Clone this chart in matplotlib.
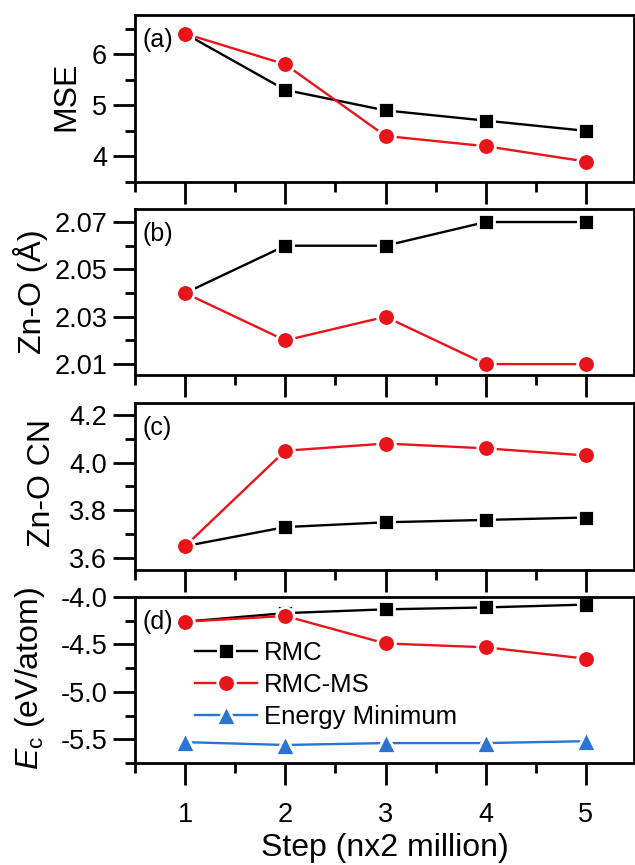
import matplotlib
matplotlib.use('Agg')
import matplotlib.pyplot as plt
from matplotlib.ticker import MultipleLocator, FixedLocator, FormatStrFormatter

plt.rcParams['font.family'] = ['Liberation Sans', 'DejaVu Sans']
plt.rcParams['mathtext.fontset'] = 'custom'
plt.rcParams['mathtext.rm'] = 'Liberation Sans'
plt.rcParams['mathtext.it'] = 'Liberation Sans:italic'
plt.rcParams['axes.unicode_minus'] = False

steps = [1, 2, 3, 4, 5]

mse_rmc = [6.4, 5.3, 4.9, 4.7, 4.5]
mse_rmcms = [6.4, 5.8, 4.4, 4.2, 3.9]

zno_rmc = [2.04, 2.06, 2.06, 2.07, 2.07]
zno_rmcms = [2.04, 2.02, 2.03, 2.01, 2.01]

cn_rmc = [3.65, 3.73, 3.75, 3.76, 3.77]
cn_rmcms = [3.65, 4.05, 4.08, 4.06, 4.03]

ec_rmc = [-4.26, -4.17, -4.13, -4.11, -4.08]
ec_rmcms = [-4.26, -4.20, -4.49, -4.53, -4.65]
ec_emin = [-5.53, -5.56, -5.54, -5.54, -5.52]

labels = ['RMC', 'RMC-MS', 'Energy Minimum']

# y ticks per panel (major, minor)
mse_ticks = ([4, 5, 6], [3.5, 4.5, 5.5, 6.5])
zno_ticks = ([2.01, 2.03, 2.05, 2.07], [2.02, 2.04, 2.06])
cn_ticks = ([3.6, 3.8, 4.0, 4.2], [3.7, 3.9, 4.1])
ec_ticks = ([-5.5, -5.0, -4.5, -4.0], [-5.75, -5.25, -4.75, -4.25])

BLACK = '#000000'
RED = '#e8141a'
BLUE = '#2a74d2'

W, H = 635, 865
fig = plt.figure(figsize=(W / 100, H / 100), dpi=100)


def add_panel(top, bottom):
    return fig.add_axes([135 / W, 1 - bottom / H, 499 / W, (bottom - top) / H])


panels = [
    add_panel(15, 182),
    add_panel(209, 375),
    add_panel(403, 570),
    add_panel(597, 763),
]

line_kw = dict(linewidth=1.7, markeredgecolor='white', markeredgewidth=2.0)


def style(ax, ylim, ticks, fmt, letter):
    ax.set_xlim(0.5, 5.48)
    ax.set_ylim(*ylim)
    ax.xaxis.set_major_locator(MultipleLocator(1))
    ax.xaxis.set_minor_locator(MultipleLocator(0.5))
    ax.yaxis.set_major_locator(FixedLocator(ticks[0]))
    ax.yaxis.set_minor_locator(FixedLocator(ticks[1]))
    ax.yaxis.set_major_formatter(FormatStrFormatter(fmt))
    for s in ax.spines.values():
        s.set_linewidth(2.0)
    ax.tick_params(which='major', direction='out', length=16, width=2.0,
                   labelsize=19.5, pad=4)
    ax.tick_params(which='minor', direction='out', length=7.5, width=2.0)
    ax.tick_params(axis='x', which='major', pad=12)
    ax.text(7 / 499, 1 - 25 / (ax.bbox.height), letter, transform=ax.transAxes,
            ha='left', va='center', fontsize=18)


ax = panels[0]
ax.plot(steps, mse_rmc, color=BLACK, marker='s', markersize=12, **line_kw)
ax.plot(steps, mse_rmcms, color=RED, marker='o', markersize=12.7, **line_kw)
style(ax, (3.5, 6.765), mse_ticks, '%d', '(a)')

ax = panels[1]
ax.plot(steps, zno_rmc, color=BLACK, marker='s', markersize=12, **line_kw)
ax.plot(steps, zno_rmcms, color=RED, marker='o', markersize=12.7, **line_kw)
style(ax, (2.0054, 2.0755), zno_ticks, '%.2f', '(b)')

ax = panels[2]
ax.plot(steps, cn_rmc, color=BLACK, marker='s', markersize=12, **line_kw)
ax.plot(steps, cn_rmcms, color=RED, marker='o', markersize=12.7, **line_kw)
style(ax, (3.55, 4.25), cn_ticks, '%.1f', '(c)')

ax = panels[3]
ax.plot(steps, ec_rmc, color=BLACK, marker='s', markersize=12, label=labels[0], **line_kw)
ax.plot(steps, ec_rmcms, color=RED, marker='o', markersize=12.7, label=labels[1], **line_kw)
ax.plot(steps, ec_emin, color=BLUE, marker='^', markersize=14, label=labels[2], **line_kw)
style(ax, (-5.75, -4.0), ec_ticks, '%.1f', '(d)')
ax.legend(loc='upper left', bbox_to_anchor=(60 / 499, 1 - 44 / 166), frameon=False,
          fontsize=18.5, handlelength=2.4, handletextpad=0.3, labelspacing=0.32,
          borderpad=0, borderaxespad=0)
ax.set_xlabel('Step (nx2 million)', fontsize=23, labelpad=4)

for ax in panels[:3]:
    ax.tick_params(axis='x', labelbottom=False)

# y labels
fig.text(66 / W, 1 - 96 / H, 'MSE', rotation=90, ha='center', va='center', fontsize=23)
fig.text(30 / W, 1 - 292 / H, 'Zn-O (Å)', rotation=90, ha='center', va='center', fontsize=23)
fig.text(42 / W, 1 - 483 / H, 'Zn-O CN', rotation=90, ha='center', va='center', fontsize=23)
fig.text(30 / W, 1 - 679 / H, r'$E_\mathrm{c}$ (eV/atom)', rotation=90, ha='center',
         va='center', fontsize=23)

fig.savefig('out.png', dpi=100)
